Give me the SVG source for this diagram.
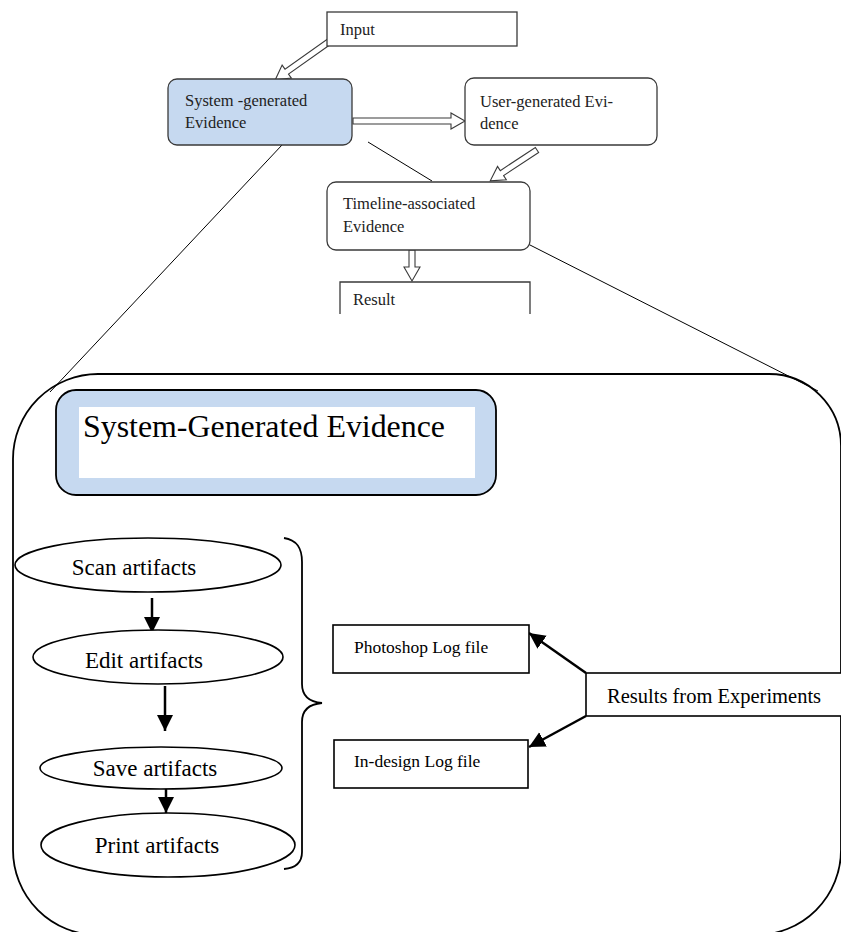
<svg xmlns="http://www.w3.org/2000/svg" width="841" height="932" viewBox="0 0 841 932">
  <style>
    .t-small { font-family: "Liberation Serif", "Times New Roman", serif; font-size: 16.5px; fill: #222; }
    .t-step { font-family: "Liberation Serif", "Times New Roman", serif; font-size: 23px; fill: #000; }
    .t-log { font-family: "Liberation Serif", "Times New Roman", serif; font-size: 17.5px; fill: #000; }
    .box-top { fill: #fff; stroke: #3a3a3a; stroke-width: 1.3; }
    .box-blue { fill: #c6d9f0; stroke: #3a3a3a; stroke-width: 1.3; }
    .hollow { fill: #fff; stroke: #3a3a3a; stroke-width: 1.1; stroke-linejoin: miter; }
    .thin { fill: none; stroke: #000; stroke-width: 1; }
    .solid { fill: none; stroke: #000; stroke-width: 2.5; }
    .ellipse { fill: #fff; stroke: #000; stroke-width: 1.6; }
    .rect { fill: #fff; stroke: #000; stroke-width: 1.6; }
  </style>
  <defs>
    <marker id="head" markerUnits="userSpaceOnUse" markerWidth="18" markerHeight="18" refX="16" refY="8" orient="auto">
      <path d="M0,0 L16,8 L0,16 Z" fill="#000"/>
    </marker>
  </defs>

  <rect width="841" height="932" fill="#fff"/>

  <!-- zoom-out lines and container outline -->
  <g id="detail-frame">
    <path class="thin" d="M98,374 H769 A72,72 0 0 1 841,446 V850 A85,85 0 0 1 756,935 H98 A85,85 0 0 1 13,850 V459 A85,85 0 0 1 98,374 Z" style="stroke-width:1.8"/>
  </g>

  <g id="connectors">
    <!-- thin guide lines from the overview down to the detail frame -->
    <line class="thin" x1="282" y1="145" x2="50" y2="392"/>
    <line class="thin" x1="368" y1="142" x2="432" y2="181"/>
    <line class="thin" x1="530" y1="245" x2="818" y2="391"/>

    <!-- hollow block arrows in the overview -->
    <polygon class="hollow" transform="translate(330,41) rotate(144.7)" points="0,-3 53,-3 53,-8 67,0 53,8 53,3 0,3"/>
    <polygon class="hollow" transform="translate(353,121) rotate(0)" points="0,-3 98,-3 98,-8 112,0 98,8 98,3 0,3"/>
    <polygon class="hollow" transform="translate(537,150) rotate(146.6)" points="0,-3 42,-3 42,-8 56,0 42,8 42,3 0,3"/>
    <polygon class="hollow" transform="translate(412,250) rotate(90)" points="0,-3 17,-3 17,-8 31,0 17,8 17,3 0,3"/>

    <!-- step arrows -->
    <line class="solid" x1="152" y1="598" x2="152" y2="633" marker-end="url(#head)"/>
    <line class="solid" x1="165" y1="686" x2="165" y2="731" marker-end="url(#head)"/>
    <line class="solid" x1="166" y1="788" x2="166" y2="813" marker-end="url(#head)"/>

    <!-- results arrows -->
    <line class="solid" x1="586" y1="673" x2="529" y2="633" marker-end="url(#head)"/>
    <line class="solid" x1="586" y1="716" x2="529" y2="747" marker-end="url(#head)"/>

    <!-- brace grouping the steps -->
    <path class="thin" style="stroke-width:1.8" d="M284,538 C297,540 302,548 302,562 V684 C302,696 310,702 322,703 C310,704 302,710 302,722 V852 C302,863 296,868 284,869"/>
  </g>

  <!-- overview nodes -->
  <g id="input">
    <rect class="box-top" x="327" y="12" width="190" height="34"/>
    <text class="t-small" x="340" y="35">Input</text>
  </g>
  <g id="system-generated">
    <rect class="box-blue" x="168" y="79" width="184" height="66" rx="9"/>
    <text class="t-small" x="185" y="106">System -generated</text>
    <text class="t-small" x="185" y="128">Evidence</text>
  </g>
  <g id="user-generated">
    <rect class="box-top" x="465" y="78" width="192" height="67" rx="9"/>
    <text class="t-small" x="480" y="107">User-generated Evi-</text>
    <text class="t-small" x="480" y="129">dence</text>
  </g>
  <g id="timeline">
    <rect class="box-top" x="327" y="182" width="203" height="68" rx="9"/>
    <text class="t-small" x="343" y="209">Timeline-associated</text>
    <text class="t-small" x="343" y="232">Evidence</text>
  </g>
  <g id="result">
    <path class="box-top" d="M340,314 V282 H530 V314" fill="none"/>
    <text class="t-small" x="353" y="305">Result</text>
  </g>

  <!-- detail nodes -->
  <g id="sge-title">
    <rect x="56" y="390" width="440" height="105" rx="20" fill="#c6d9f0" stroke="#000" stroke-width="1.8"/>
    <rect x="79" y="407" width="396" height="71" fill="#fff"/>
    <text x="83" y="437" font-family="Liberation Serif, Times New Roman, serif" font-size="31" fill="#000" textLength="362" lengthAdjust="spacingAndGlyphs">System-Generated Evidence</text>
  </g>
  <g id="scan">
    <ellipse class="ellipse" cx="148" cy="565" rx="133" ry="27"/>
    <text class="t-step" x="134" y="575" text-anchor="middle">Scan artifacts</text>
  </g>
  <g id="edit">
    <ellipse class="ellipse" cx="158" cy="657" rx="125" ry="27"/>
    <text class="t-step" x="144" y="668" text-anchor="middle">Edit artifacts</text>
  </g>
  <g id="save">
    <ellipse class="ellipse" cx="161" cy="768" rx="121" ry="21"/>
    <text class="t-step" x="155" y="776" text-anchor="middle">Save artifacts</text>
  </g>
  <g id="print">
    <ellipse class="ellipse" cx="168" cy="845" rx="127" ry="32"/>
    <text class="t-step" x="157" y="853" text-anchor="middle">Print artifacts</text>
  </g>
  <g id="photoshop-log">
    <rect class="rect" x="333" y="625" width="196" height="48"/>
    <text class="t-log" x="354" y="653">Photoshop Log file</text>
  </g>
  <g id="indesign-log">
    <rect class="rect" x="334" y="740" width="194" height="48"/>
    <text class="t-log" x="354" y="767">In-design Log file</text>
  </g>
  <g id="results-experiments">
    <rect class="rect" x="586" y="673" width="280" height="43"/>
    <text x="607" y="703" font-family="Liberation Serif, Times New Roman, serif" font-size="20.5" fill="#000">Results from Experiments</text>
  </g>
</svg>
